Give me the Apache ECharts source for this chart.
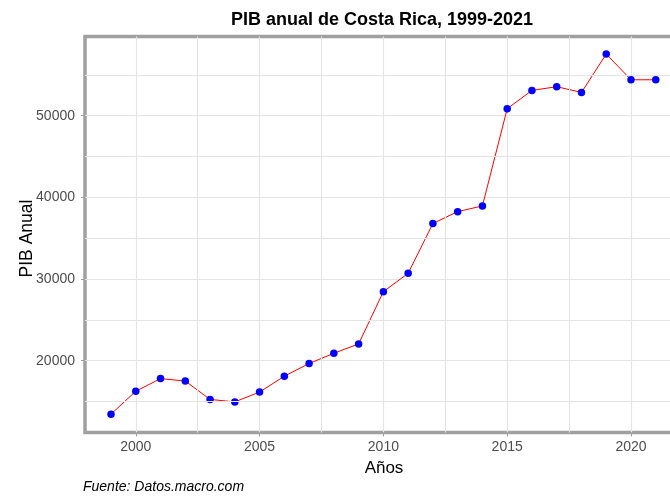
<!DOCTYPE html>
<html>
<head>
<meta charset="utf-8">
<script src="https://cdn.jsdelivr.net/npm/echarts@6/dist/echarts.min.js"></script>
<style>html,body{margin:0;padding:0;background:#fff;overflow:hidden;}#c{width:692px;height:501px;}</style>
</head>
<body>
<div id="c"></div>
<script>
const years = [1999,2000,2001,2002,2003,2004,2005,2006,2007,2008,2009,2010,2011,2012,2013,2014,2015,2016,2017,2018,2019,2020,2021];
const pib = [13450,16250,17800,17500,15250,14950,16150,18100,19650,20900,22050,28450,30700,36800,38250,38950,50850,53100,53550,52850,57550,54400,54400];
const xTicks = [2000,2005,2010,2015,2020];
const yTicks = [20000,30000,40000,50000];
const xMinor = [2002.5,2007.5,2012.5,2017.5];
const yMinor = [15000,25000,35000,45000,55000];

const chart = echarts.init(document.getElementById('c'), null, {renderer:'canvas'});
const gridCol = '#e4e4e4';
const axCol = '#a0a0a0';
const font = 'Liberation Sans, Arial, sans-serif';
chart.setOption({
  animation:false,
  backgroundColor:'#fff',
  title:{
    text:'PIB anual de Costa Rica, 1999-2021',
    left:382, top:11, textAlign:'center', padding:0,
    textStyle:{fontFamily:font, fontSize:18, fontWeight:'bold', color:'#000'}
  },
  grid:{left:85, top:36.5, width:598, bottom:68.5, show:true, borderColor:axCol, borderWidth:3.5, backgroundColor:'transparent', containLabel:false},
  xAxis:{
    type:'value', min:1997.95, max:2022.1,
    name:'Años', nameLocation:'middle', nameGap:26,
    nameTextStyle:{fontFamily:font, fontSize:17, color:'#000'},
    axisLine:{show:false},
    axisTick:{show:true, length:4, lineStyle:{color:axCol, width:1}, customValues:xTicks},
    axisLabel:{fontFamily:font, fontSize:14, color:'#4d4d4d', margin:8, customValues:xTicks, formatter:v=>String(v)},
    splitLine:{show:true, lineStyle:{color:gridCol, width:1.2}}
  },
  yAxis:{
    type:'value', min:11200, max:59700,
    name:'PIB Anual', nameLocation:'middle', nameGap:49, nameRotate:90, nameMoveOverlap:false,
    nameTextStyle:{fontFamily:font, fontSize:17.5, color:'#000', padding:[0,8,0,0]},
    axisLine:{show:false},
    axisTick:{show:true, length:4, lineStyle:{color:axCol, width:1}, customValues:yTicks},
    axisLabel:{fontFamily:font, fontSize:14, color:'#4d4d4d', margin:10, customValues:yTicks, formatter:v=>String(v)},
    splitLine:{show:true, lineStyle:{color:gridCol, width:1.2}}
  },
  graphic:[{
    type:'text', left:83, top:480,
    style:{text:'Fuente: Datos.macro.com', font:'italic 14px Liberation Sans, Arial, sans-serif', fill:'#000'}
  }],
  series:[
    {
      type:'line', data:[], z:1, silent:true,
      markLine:{
        silent:true, symbol:'none', label:{show:false}, animation:false,
        lineStyle:{color:gridCol, width:1, type:'solid'},
        emphasis:{disabled:true},
        data:[...xMinor.map(v=>({xAxis:v})), ...yMinor.map(v=>({yAxis:v}))]
      }
    },
    {
      type:'line', z:3,
      data:years.map((y,i)=>[y,pib[i]]),
      showAllSymbol:true, symbol:'circle', symbolSize:7.5,
      lineStyle:{color:'#ff0000', width:1},
      itemStyle:{color:'#0000ff', borderWidth:0}
    }
  ]
});
</script>
</body>
</html>
